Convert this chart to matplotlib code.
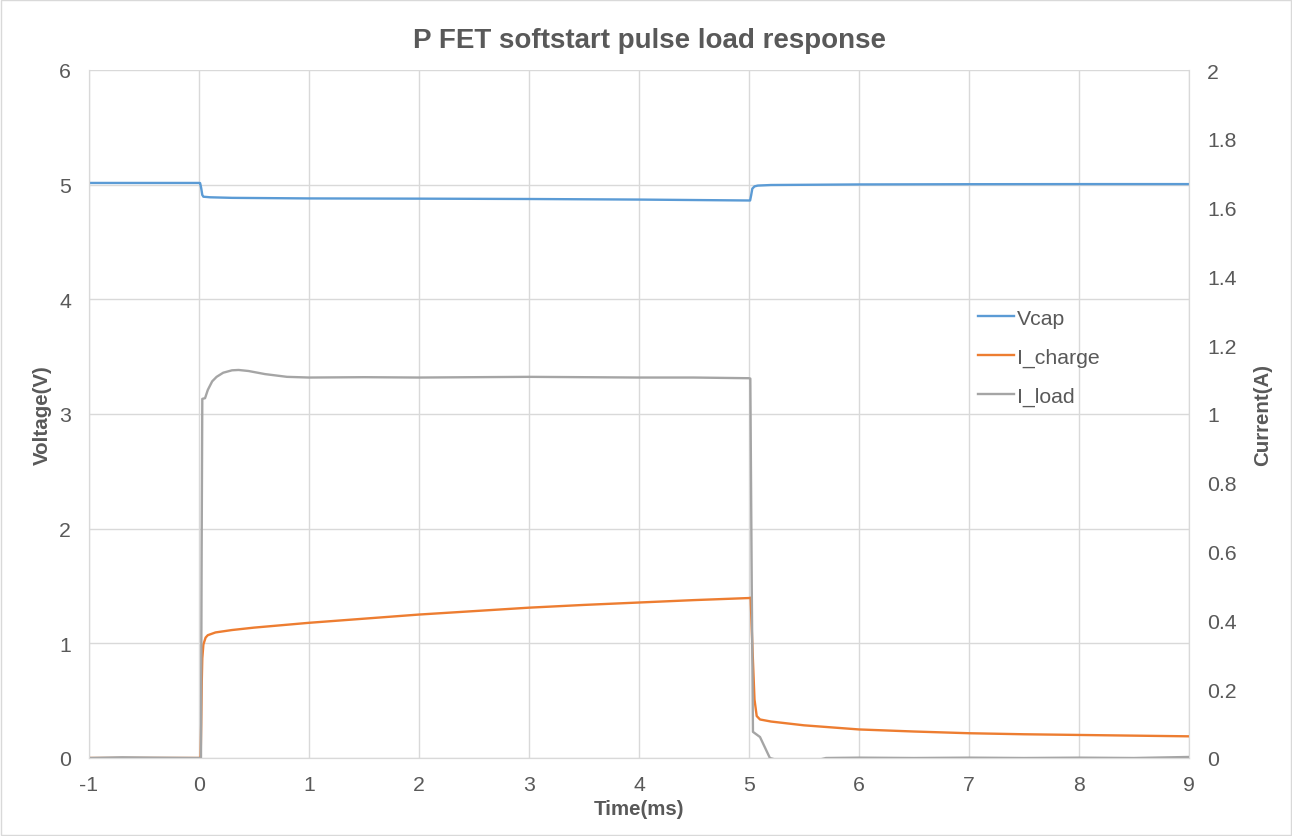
import matplotlib
matplotlib.use("Agg")
import matplotlib.pyplot as plt
from matplotlib.patches import Rectangle

plt.rcParams["font.family"] = ["Liberation Sans", "DejaVu Sans"]
plt.rcParams["axes.unicode_minus"] = False

GRID = "#d9d9d9"
TXT = "#595959"
C_VCAP = "#5b9bd5"
C_CHG = "#ed7d31"
C_LOAD = "#a5a5a5"

# Vcap (V), left axis
t_vcap = [-1.0, -0.5, 0.0, 0.01, 0.02, 0.03, 0.04, 0.1, 0.3, 1.0, 2.0, 3.0,
          4.0, 5.0, 5.01, 5.02, 5.03, 5.05, 5.08, 5.2, 6.0, 7.0, 8.0, 9.0]
vcap = [5.015, 5.015, 5.015, 5.014, 4.97, 4.91, 4.895, 4.89, 4.885, 4.88,
        4.878, 4.875, 4.87, 4.862, 4.862, 4.91, 4.965, 4.985, 4.992, 4.997,
        5.002, 5.004, 5.005, 5.005]

# I_charge (A), right axis
t_chg = [-1.0, -0.5, 0.0, 0.015, 0.02, 0.025, 0.03, 0.04, 0.06, 0.08, 0.15,
         0.3, 0.5, 1.0, 1.5, 2.0, 2.5, 3.0, 3.5, 4.0, 4.5, 5.0, 5.015, 5.03,
         5.05, 5.07, 5.1, 5.2, 5.5, 6.0, 6.5, 7.0, 7.5, 8.0, 8.5, 9.0]
i_charge = [0.0, 0.0, 0.0, 0.0, 0.1, 0.22, 0.29, 0.33, 0.35, 0.357, 0.365,
            0.372, 0.379, 0.393, 0.405, 0.417, 0.427, 0.437, 0.445, 0.452,
            0.459, 0.465, 0.466, 0.33, 0.17, 0.122, 0.112, 0.106, 0.095,
            0.083, 0.077, 0.072, 0.069, 0.067, 0.065, 0.063]

# I_load (A), right axis
t_load = [-1.0, -0.7, -0.4, 0.0, 0.018, 0.024, 0.03, 0.055, 0.08, 0.12, 0.16,
          0.22, 0.3, 0.36, 0.45, 0.6, 0.8, 1.0, 1.5, 2.0, 2.5, 3.0, 3.5,
          4.0, 4.5, 5.0, 5.012, 5.025, 5.036, 5.1, 5.19, 5.3, 5.6, 5.7,
          6.0, 6.5, 7.0, 7.5, 8.0, 8.5, 9.0]
i_load = [0.0, 0.002, 0.001, 0.0, 0.0, 0.6, 1.044, 1.046, 1.07, 1.095, 1.108,
          1.12, 1.127, 1.128, 1.125, 1.116, 1.108, 1.106, 1.107, 1.106,
          1.107, 1.108, 1.107, 1.106, 1.106, 1.104, 1.103, 0.5, 0.076, 0.061,
          0.0, -0.01, -0.008, 0.0, 0.001, 0.0, 0.001, 0.0, 0.001, 0.0, 0.003]

x_ticks = list(range(-1, 10))
v_ticks = list(range(0, 7))
a_ticks = [0, 0.2, 0.4, 0.6, 0.8, 1, 1.2, 1.4, 1.6, 1.8, 2]
a_labels = ["0", "0.2", "0.4", "0.6", "0.8", "1", "1.2", "1.4", "1.6", "1.8", "2"]

TICK_FS = 15.3
LAB_FS = 14.8

fig = plt.figure(figsize=(12.92, 8.37), dpi=100, facecolor="white")
ax = fig.add_axes([89 / 1292, 1 - 759 / 837, 1100 / 1292, 688 / 837])
ax2 = ax.twinx()

lw = 1.7
h1, = ax.plot(t_vcap, vcap, color=C_VCAP, lw=lw, label="Vcap",
              solid_joinstyle="round")
h2, = ax2.plot(t_chg, i_charge, color=C_CHG, lw=lw, label="I_charge",
               solid_joinstyle="round")
h3, = ax2.plot(t_load, i_load, color=C_LOAD, lw=lw, label="I_load",
               solid_joinstyle="round")

ax.set_xlim(-1, 9)
ax.set_ylim(0, 6)
ax2.set_ylim(0, 2)
ax.set_xticks(x_ticks)
ax.set_yticks(v_ticks)
ax2.set_yticks(a_ticks)
ax2.set_yticklabels(a_labels)

ax.grid(True, color=GRID, lw=1.0)
ax.set_axisbelow(True)
for a in (ax, ax2):
    a.tick_params(length=0, labelsize=TICK_FS, colors=TXT, pad=13)
    for s in a.spines.values():
        s.set_color(GRID)
    a.spines["top"].set_visible(False)
ax.tick_params(axis="x", pad=12)

ax.set_xlabel("Time(ms)", fontsize=LAB_FS, fontweight="bold", color=TXT,
              labelpad=4)
ax.set_ylabel("Voltage(V)", fontsize=LAB_FS, fontweight="bold", color=TXT,
              labelpad=5)
ax2.set_ylabel("Current(A)", fontsize=LAB_FS, fontweight="bold", color=TXT,
               labelpad=12)

fig.text(0.503, 1 - 48 / 837, "P FET softstart pulse load response",
         ha="center", va="baseline", fontsize=20, fontweight="bold", color=TXT)

ax2.legend(handles=[h1, h2, h3], loc="upper left",
           bbox_to_anchor=(0.7905, 0.681), frameon=False, fontsize=TICK_FS,
           handlelength=1.7, handletextpad=0.15, labelspacing=0.93,
           labelcolor=TXT)

fig.patches.append(Rectangle((0.001, 0.001), 0.998, 0.998,
                             transform=fig.transFigure, fill=False,
                             edgecolor=GRID, lw=1.0))

fig.savefig("out.png", dpi=100, facecolor="white")
